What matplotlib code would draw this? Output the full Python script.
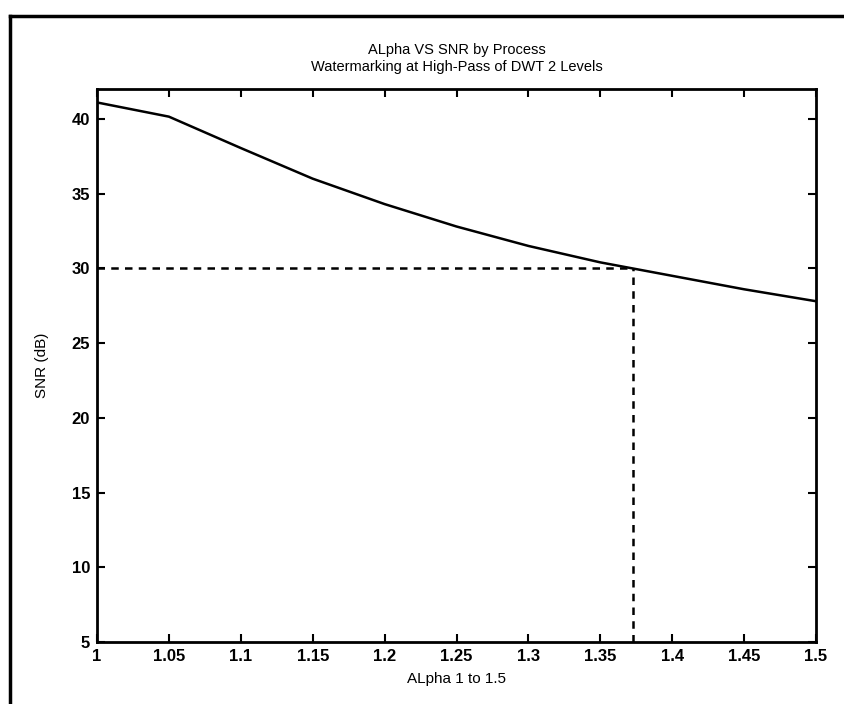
import matplotlib
matplotlib.use("Agg")
import matplotlib.pyplot as plt
from matplotlib.lines import Line2D

# Data
alpha = [1.00, 1.05, 1.10, 1.15, 1.20, 1.25, 1.30, 1.35, 1.40, 1.45, 1.50]
snr = [41.1, 40.15, 38.05, 36.0, 34.3, 32.8, 31.5, 30.4, 29.5, 28.6, 27.8]
threshold_snr = 30
threshold_alpha = 1.373
x_ticks = [1, 1.05, 1.1, 1.15, 1.2, 1.25, 1.3, 1.35, 1.4, 1.45, 1.5]
x_ticklabels = ["1", "1.05", "1.1", "1.15", "1.2", "1.25", "1.3", "1.35", "1.4", "1.45", "1.5"]
y_ticks = [5, 10, 15, 20, 25, 30, 35, 40]
title_text = "ALpha VS SNR by Process\nWatermarking at High-Pass of DWT 2 Levels"
xlabel_text = "ALpha 1 to 1.5"
ylabel_text = "SNR (dB)"

plt.rcParams['font.family'] = ['Liberation Sans', 'DejaVu Sans']

fig = plt.figure(figsize=(8.44, 7.04), dpi=100)
ax = fig.add_axes([97/844, (704-642)/704, (816-97)/844, (642-89)/704])

ax.plot(alpha, snr, color='black', linewidth=1.8)
ax.plot([alpha[0], threshold_alpha], [threshold_snr, threshold_snr], color='black',
        linewidth=1.8, linestyle=(0, (3, 2.5)))
ax.plot([threshold_alpha, threshold_alpha], [5, threshold_snr], color='black',
        linewidth=1.8, linestyle=(0, (3, 2.5)))

ax.set_xlim(1, 1.5)
ax.set_ylim(5, 42)
ax.set_xticks(x_ticks)
ax.set_xticklabels(x_ticklabels)
ax.set_yticks(y_ticks)
ax.tick_params(direction='in', length=6, width=1.5, top=True, right=True,
               labelsize=12, pad=5)
for lab in ax.get_xticklabels() + ax.get_yticklabels():
    lab.set_fontweight('bold')
for s in ax.spines.values():
    s.set_linewidth(2)

ax.set_title(title_text, fontsize=10.5, pad=13, linespacing=1.3)
ax.set_xlabel(xlabel_text, fontsize=11, labelpad=6)
ax.set_ylabel(ylabel_text, fontsize=11, labelpad=16)

# outer frame lines of the page
fig.add_artist(Line2D([10/844, 10/844], [0, 1 - 16/704], color='black', linewidth=2.5,
                      transform=fig.transFigure))
fig.add_artist(Line2D([10/844, 1], [1 - 16/704, 1 - 16/704], color='black', linewidth=2.5,
                      transform=fig.transFigure))

fig.savefig("out.png", dpi=100)
